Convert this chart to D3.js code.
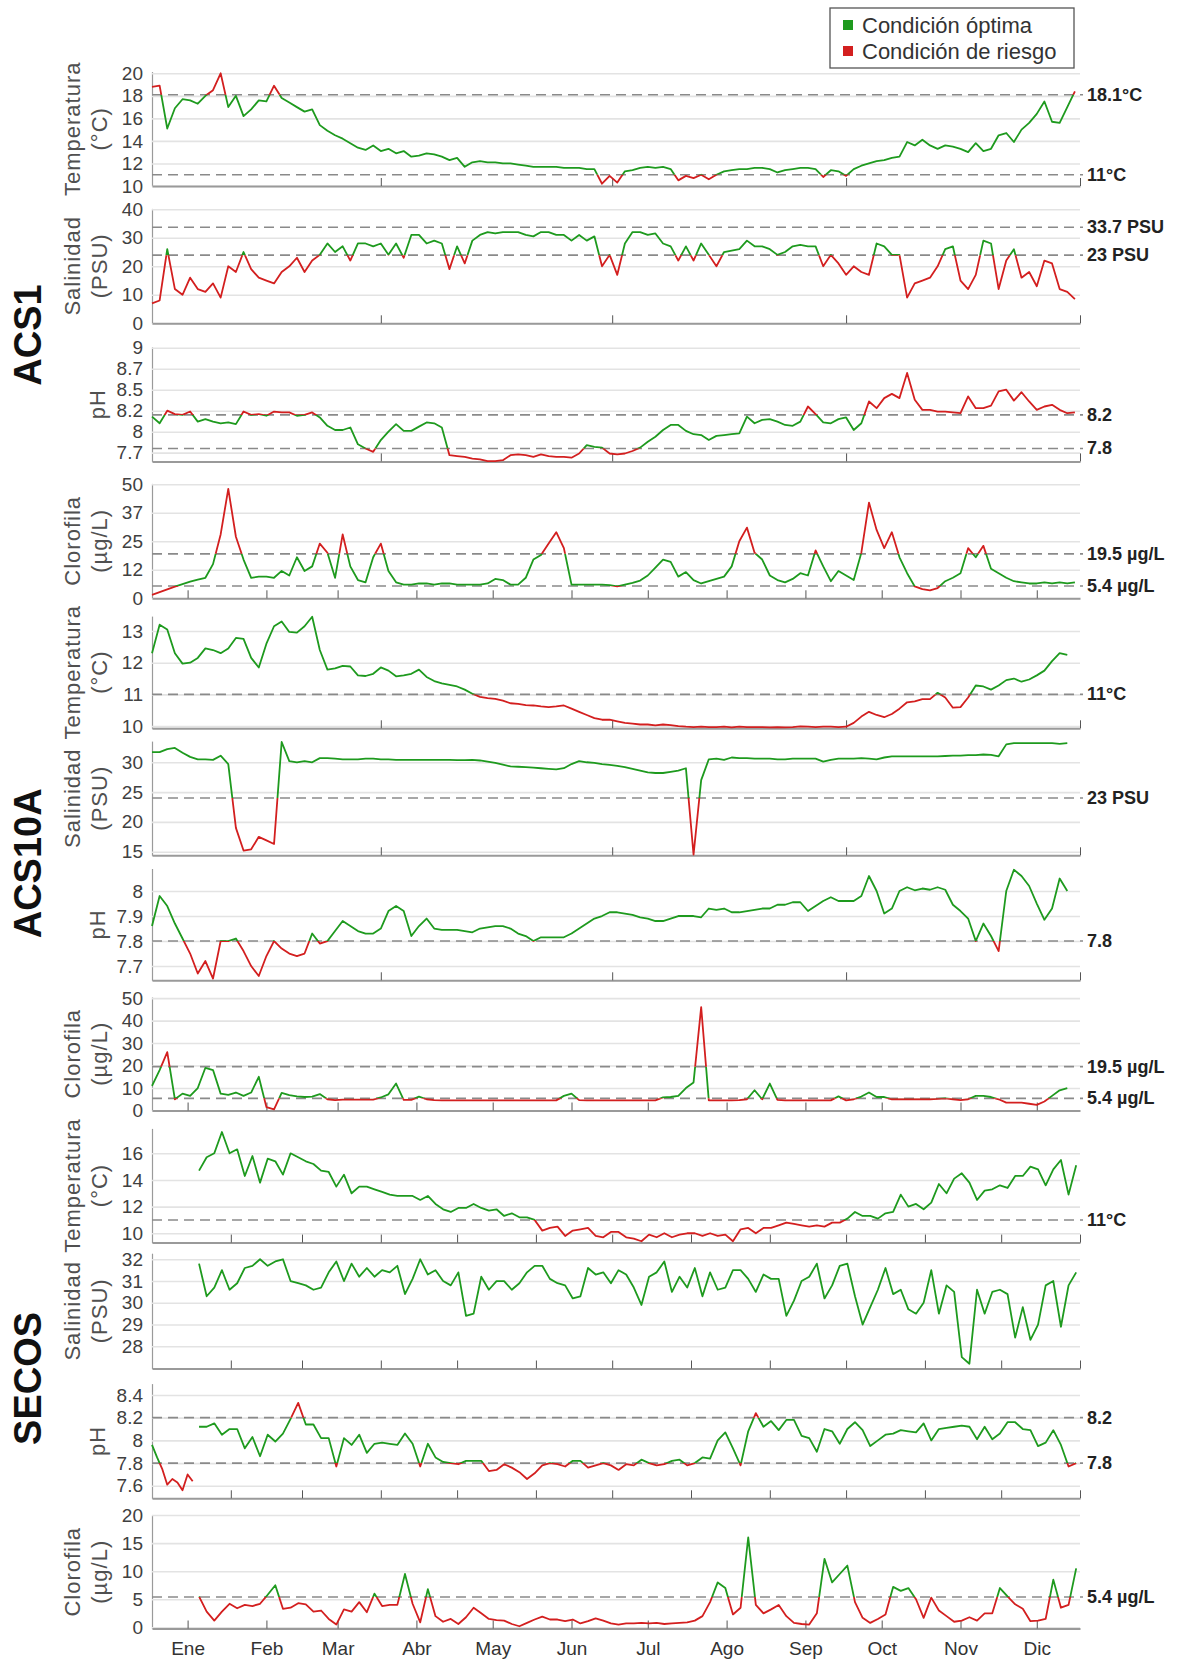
<!DOCTYPE html>
<html lang="es">

<head>
  <meta charset="UTF-8" />
  <title>Condiciones ACS1, ACS10A y SECOS</title>
  <script src="https://d3js.org/d3.v7.min.js"></script>
  <style>
    body { margin: 0; background: #fff; }
    svg { font-family: "Liberation Sans", Arial, sans-serif; }
  </style>
</head>

<body>
  <svg width="1178" height="1663"></svg>

  <script>
    // Series: one value every STEP days from the given start day (day 0 = 1 Ene)
    const STEP = 3;

    const acs1Temp = [18.8, 18.9, 15.1, 16.9, 17.7, 17.6, 17.3, 18.0, 18.5, 20.0,
      17.0, 18.0, 16.2, 16.8, 17.6, 17.5, 18.9, 17.8, 17.4, 17.0,
      16.6, 16.8, 15.4, 14.9, 14.5, 14.2, 13.8, 13.4, 13.2, 13.6,
      13.1, 13.3, 12.9, 13.1, 12.6, 12.7, 12.9, 12.8, 12.6, 12.3,
      12.5, 11.7, 12.1, 12.2, 12.1, 12.1, 12.0, 12.0, 11.9, 11.8,
      11.7, 11.7, 11.7, 11.7, 11.6, 11.6, 11.6, 11.5, 11.5, 10.2,
      10.9, 10.3, 11.3, 11.4, 11.6, 11.7, 11.6, 11.7, 11.5, 10.5,
      10.9, 10.7, 11.0, 10.6, 11.0, 11.3, 11.4, 11.5, 11.5, 11.6,
      11.6, 11.5, 11.2, 11.4, 11.5, 11.6, 11.6, 11.5, 10.8, 11.4,
      11.3, 10.9, 11.5, 11.8, 12.0, 12.2, 12.3, 12.5, 12.6, 13.9,
      13.6, 14.1, 13.6, 13.3, 13.6, 13.5, 13.3, 13.0, 13.8, 13.1,
      13.3, 14.5, 14.7, 13.9, 15.0, 15.6, 16.4, 17.5, 15.7, 15.6,
      17.0, 18.4];

    const acs1Sal = [7, 8, 26, 12, 10, 16, 12, 11, 14, 9,
      20, 18, 25, 19, 16, 15, 14, 18, 20, 23,
      18, 22, 24, 28, 25, 27, 22, 28, 28, 27,
      28, 24, 28, 23, 31, 31, 28, 29, 28, 19,
      27, 21, 29, 31, 32, 31.5, 32, 32, 32, 31,
      30.5, 32, 32, 31, 31, 29, 31, 29, 30.5, 20,
      24, 17, 28, 32, 32, 31, 31.5, 28, 27, 22,
      27, 22, 28, 24, 20, 25, 25.5, 26, 29, 27,
      27, 26, 24, 25, 27, 27.5, 27, 27, 20, 24,
      21, 17, 20, 18, 17, 28, 27, 24, 24, 9,
      14, 15, 16, 20, 26, 27, 15, 12, 17, 29,
      28, 12, 22, 26, 16, 18, 13, 22, 21, 12,
      11, 8.5];

    const acs1Ph = [8.18, 8.10, 8.25, 8.21, 8.20, 8.24, 8.12, 8.15, 8.12, 8.10,
      8.11, 8.09, 8.24, 8.20, 8.21, 8.19, 8.24, 8.23, 8.23, 8.19,
      8.20, 8.23, 8.17, 8.07, 8.02, 8.02, 8.05, 7.85, 7.80, 7.76,
      7.90, 8.00, 8.09, 8.01, 8.01, 8.06, 8.11, 8.10, 8.05, 7.72,
      7.71, 7.70, 7.68, 7.67, 7.65, 7.65, 7.66, 7.72, 7.73, 7.72,
      7.70, 7.73, 7.71, 7.70, 7.70, 7.69, 7.74, 7.84, 7.82, 7.81,
      7.74, 7.73, 7.74, 7.77, 7.81, 7.88, 7.94, 8.02, 8.08, 8.08,
      8.01, 7.97, 7.96, 7.90, 7.95, 7.96, 7.97, 7.98, 8.18, 8.10,
      8.14, 8.15, 8.12, 8.08, 8.07, 8.12, 8.30, 8.21, 8.11, 8.10,
      8.15, 8.17, 8.02, 8.10, 8.36, 8.28, 8.40, 8.45, 8.40, 8.70,
      8.38, 8.26, 8.26, 8.24, 8.24, 8.23, 8.22, 8.42, 8.28, 8.28,
      8.31, 8.48, 8.50, 8.37, 8.47, 8.36, 8.26, 8.30, 8.32, 8.26,
      8.22, 8.23];

    const acs1Chl = [1.5, 2.7, 3.9, 5.1, 6.2, 7.3, 8.2, 9, 15, 28,
      48, 27, 17, 9, 9.5, 9.5, 9, 12, 10, 18,
      12, 14, 24, 20, 9, 28, 14, 8, 7, 18,
      24, 12, 7, 6, 6, 6.5, 6.5, 6, 6.5, 6.5,
      6, 6, 6, 6, 6.5, 8.5, 8, 6, 6, 9,
      17, 19, 24, 29, 22, 6, 6, 6, 6, 6,
      5.8, 5.2, 6, 6.8, 7.8, 10, 13.5, 17, 16, 9.5,
      11.5, 8, 6.5, 7.5, 8.5, 9.5, 14, 25, 31, 20,
      17, 10, 8, 7, 8.5, 11, 10, 21, 14, 7.5,
      12, 10, 8, 20, 42, 30, 22, 29, 18, 11,
      5.2, 4, 3.5, 4.5, 7.5, 9, 11, 22, 18, 23,
      13, 11, 9, 7.5, 7, 6.5, 6.5, 7, 6.5, 7,
      6.5, 7];

    const acs10aTemp = [12.3, 13.2, 13.05, 12.3, 11.97, 12.0, 12.15, 12.45, 12.4, 12.3,
      12.45, 12.78, 12.75, 12.15, 11.85, 12.6, 13.15, 13.3, 12.97, 12.95,
      13.15, 13.45, 12.4, 11.78, 11.82, 11.9, 11.88, 11.6, 11.58, 11.65,
      11.85, 11.75, 11.57, 11.6, 11.65, 11.78, 11.55, 11.42, 11.35, 11.3,
      11.25, 11.15, 11.02, 10.92, 10.88, 10.86, 10.8, 10.72, 10.7, 10.66,
      10.65, 10.62, 10.6, 10.62, 10.65, 10.55, 10.45, 10.35, 10.25, 10.2,
      10.2, 10.15, 10.1, 10.08, 10.05, 10.05, 10.02, 10.05, 10.03, 10.0,
      9.98, 9.97, 9.98, 9.97, 9.97, 9.98, 9.96, 9.98, 9.97, 9.97,
      9.97, 9.96, 9.97, 9.96, 9.97, 9.99, 9.98, 9.97, 9.98, 9.98,
      9.97, 9.98, 10.1, 10.3, 10.45, 10.35, 10.28, 10.38, 10.55, 10.75,
      10.78, 10.85, 10.85, 11.05, 10.9, 10.58, 10.6, 10.9, 11.28, 11.25,
      11.15, 11.28, 11.45, 11.5, 11.4, 11.47, 11.6, 11.75, 12.05, 12.3,
      12.25];

    const acs10aSal = [31.7, 31.7, 32.2, 32.4, 31.6, 30.9, 30.5, 30.5, 30.4, 31.1,
      29.7, 19, 15.2, 15.4, 17.5, 16.9, 16.3, 33.4, 30.2, 30.0,
      30.2, 30.0, 30.7, 30.7, 30.6, 30.5, 30.5, 30.5, 30.6, 30.6,
      30.5, 30.5, 30.4, 30.4, 30.4, 30.4, 30.4, 30.4, 30.4, 30.4,
      30.35, 30.35, 30.4, 30.3, 30.1, 29.9, 29.6, 29.3, 29.25, 29.2,
      29.1, 29.0, 28.9, 28.8, 29.0, 29.7, 30.2, 30.0, 29.9, 29.7,
      29.55, 29.4, 29.2, 28.9, 28.6, 28.3, 28.2, 28.2, 28.4, 28.6,
      29.0, 14.5, 27, 30.5, 30.6, 30.4, 30.8, 30.7, 30.7, 30.6,
      30.6, 30.6, 30.5, 30.5, 30.6, 30.6, 30.6, 30.6, 30.1, 30.4,
      30.6, 30.6, 30.6, 30.7, 30.6, 30.5, 30.8, 31.0, 31.0, 31.0,
      31.0, 31.0, 31.0, 31.0, 31.05, 31.1, 31.1, 31.2, 31.2, 31.3,
      31.25, 31.0, 33.0, 33.2, 33.2, 33.2, 33.2, 33.2, 33.2, 33.1,
      33.2];

    const acs10aPh = [7.86, 7.98, 7.94, 7.87, 7.81, 7.75, 7.67, 7.72, 7.65, 7.80,
      7.80, 7.81, 7.76, 7.70, 7.66, 7.74, 7.80, 7.77, 7.75, 7.74,
      7.75, 7.83, 7.79, 7.80, 7.84, 7.88, 7.86, 7.84, 7.83, 7.83,
      7.85, 7.92, 7.94, 7.92, 7.82, 7.86, 7.89, 7.85, 7.845, 7.845,
      7.845, 7.84, 7.835, 7.85, 7.855, 7.86, 7.86, 7.85, 7.83, 7.82,
      7.80, 7.815, 7.815, 7.815, 7.815, 7.83, 7.85, 7.87, 7.89, 7.90,
      7.915, 7.915, 7.91, 7.905, 7.895, 7.89, 7.88, 7.88, 7.89, 7.90,
      7.90, 7.90, 7.895, 7.93, 7.925, 7.93, 7.915, 7.915, 7.92, 7.925,
      7.93, 7.93, 7.945, 7.945, 7.955, 7.955, 7.92, 7.94, 7.96, 7.975,
      7.96, 7.96, 7.96, 7.98, 8.06, 8.0, 7.91, 7.93, 8.0, 8.015,
      8.003, 8.01, 8.005, 8.015, 8.005, 7.945, 7.92, 7.89, 7.80, 7.87,
      7.82, 7.76, 8.0, 8.085, 8.06, 8.02, 7.95, 7.885, 7.93, 8.05,
      8.0];

    const acs10aChl = [11, 18, 26, 5, 7.5, 6.5, 10, 19, 18, 7.5,
      7, 8, 6.5, 8, 15, 1.5, 0.5, 7.8, 6.8, 6.3,
      6, 6.2, 7.3, 5, 4.6, 4.8, 4.8, 4.8, 4.8, 4.8,
      5.8, 7.2, 12, 4.7, 4.7, 6.2, 5, 4.6, 4.5, 4.5,
      4.5, 4.5, 4.5, 4.5, 4.5, 4.5, 4.5, 4.5, 4.5, 4.5,
      4.5, 4.5, 4.5, 4.5, 6.5, 7.5, 4.6, 4.5, 4.5, 4.5,
      4.5, 4.5, 4.5, 4.5, 4.5, 4.5, 4.5, 5.8, 6, 6.5,
      10, 12.5, 46, 4.5, 4.5, 4.5, 4.5, 4.6, 5, 9,
      5, 12, 4.7, 4.5, 4.5, 4.5, 4.5, 4.5, 4.5, 4.5,
      6.3, 4.5, 5, 6.2, 8, 6, 6, 5, 5, 5,
      5, 5, 5, 5.2, 5.4, 5, 4.6, 5, 6.5, 6.5,
      6, 5, 3.5, 3.5, 3.5, 3, 2.5, 4, 6.5, 9,
      10];

    // SECOS starts later in the year
    const secosStart = 18.5;

    const secosTemp = [14.7, 15.7, 16.0, 17.6, 16.0, 16.3, 14.3, 15.8, 13.8, 15.6,
      15.4, 14.4, 16.0, 15.7, 15.4, 15.2, 14.7, 14.6, 13.5, 14.4,
      13.0, 13.5, 13.5, 13.3, 13.1, 12.9, 12.8, 12.8, 12.8, 12.5,
      12.8, 12.2, 11.8, 11.6, 11.9, 11.9, 12.2, 11.9, 11.7, 11.8,
      11.3, 11.5, 11.2, 11.2, 11.0, 10.2, 10.4, 10.5, 9.8, 10.2,
      10.3, 10.4, 9.8, 9.7, 10.1, 10.1, 9.7, 9.6, 9.4, 9.9,
      9.7, 10.0, 9.7, 9.9, 10.0, 10.0, 9.8, 10.0, 9.8, 9.9,
      9.4, 10.3, 10.4, 10.0, 10.4, 10.4, 10.6, 10.8, 10.7, 10.6,
      10.5, 10.6, 10.5, 10.8, 10.8, 11.1, 11.6, 11.3, 11.3, 11.1,
      11.5, 11.6, 12.9, 12.0, 12.2, 11.8, 12.3, 13.7, 13.0, 14.1,
      14.5, 13.8, 12.5, 13.2, 13.3, 13.6, 13.4, 14.3, 14.3, 15.0,
      14.8, 13.6, 14.8, 15.5, 12.9, 15.1];

    const secosSal = [31.8, 30.3, 30.7, 31.5, 30.6, 30.9, 31.6, 31.7, 32.0, 31.7,
      31.9, 32.0, 31.0, 30.9, 30.8, 30.6, 30.7, 31.4, 31.9, 31.0,
      31.8, 31.2, 31.6, 31.2, 31.5, 31.4, 31.7, 30.4, 31.1, 32.0,
      31.3, 31.5, 31.0, 30.8, 31.4, 29.4, 29.5, 31.2, 30.6, 31.0,
      31.0, 30.6, 30.9, 31.4, 31.7, 31.7, 31.1, 30.9, 30.8, 30.2,
      30.3, 31.6, 31.3, 31.4, 30.9, 31.5, 31.3, 30.7, 29.9, 31.2,
      31.4, 31.9, 30.5, 31.2, 30.7, 31.6, 30.3, 31.4, 30.6, 30.7,
      31.5, 31.5, 31.1, 30.5, 31.3, 31.1, 31.1, 29.4, 30.1, 31.0,
      31.2, 31.8, 30.2, 30.8, 31.7, 31.8, 30.3, 29.0, 29.8, 30.6,
      31.6, 30.4, 30.6, 29.7, 29.5, 30.0, 31.5, 29.5, 30.8, 30.5,
      27.5, 27.2, 30.6, 29.5, 30.5, 30.6, 30.4, 28.4, 29.8, 28.3,
      29.0, 30.8, 31.0, 28.9, 30.8, 31.4];

    // early January pH record, one value every 2 days
    const secosPhEne = [7.96, 7.85, 7.75, 7.61, 7.66, 7.63, 7.56, 7.70, 7.64];

    const secosPh = [8.12, 8.12, 8.15, 8.05, 8.10, 8.10, 7.93, 8.03, 7.86, 8.05,
      7.99, 8.06, 8.19, 8.33, 8.14, 8.14, 8.02, 8.02, 7.77, 8.02,
      7.96, 8.05, 7.89, 7.97, 7.98, 7.97, 7.96, 8.06, 7.97, 7.77,
      7.97, 7.85, 7.81, 7.80, 7.79, 7.82, 7.82, 7.82, 7.73, 7.74,
      7.79, 7.76, 7.72, 7.66, 7.71, 7.78, 7.80, 7.79, 7.77, 7.82,
      7.82, 7.76, 7.78, 7.80, 7.78, 7.74, 7.79, 7.78, 7.83, 7.80,
      7.78, 7.79, 7.82, 7.83, 7.78, 7.80, 7.85, 7.84, 8.0, 8.07,
      7.93, 7.78, 8.08, 8.24, 8.12, 8.17, 8.09, 8.18, 8.18, 8.04,
      8.02, 7.90, 8.10, 8.08, 7.97, 8.10, 8.16, 8.09, 7.95, 8.0,
      8.05, 8.06, 8.09, 8.08, 8.07, 8.15, 8.0, 8.10, 8.11, 8.12,
      8.13, 8.12, 8.01, 8.12, 8.01, 8.06, 8.16, 8.16, 8.10, 8.09,
      7.95, 7.98, 8.09, 7.96, 7.77, 7.80];

    const secosChl = [5.5, 2.8, 1.2, 2.8, 4.2, 3.4, 4.0, 3.8, 4.2, 5.8,
      7.5, 3.3, 3.5, 4.3, 4.1, 2.8, 3.0, 1.5, 0.5, 3.2,
      2.8, 4.5, 2.7, 6.0, 3.8, 4.0, 4.0, 9.5, 4.2, 0.9,
      6.8, 2.0, 1.0, 1.5, 0.6, 1.8, 3.5, 2.5, 1.5, 1.3,
      1.2, 0.6, 0.2, 0.8, 1.4, 1.9, 1.4, 1.4, 1.1, 1.4,
      0.7, 1.1, 1.6, 1.2, 0.7, 0.5, 0.7, 0.7, 0.8, 0.7,
      0.8, 0.6, 0.7, 0.8, 0.9, 1.2, 2.0, 4.5, 8, 7,
      2.3, 3.5, 16, 4, 2.5, 3.2, 4.0, 2.0, 0.8, 0.6,
      0.5, 2.5, 12.2, 8, 9.5, 11, 4.5, 1.7, 0.8, 1.5,
      2.3, 7.2, 6.5, 7, 5, 1.7, 5.3, 3, 2, 1.0,
      1.2, 1.8, 1.2, 2.5, 2.5, 7, 5.5, 4.1, 3.3, 1.1,
      1.2, 1.5, 8.5, 3.5, 4, 10.5];

    // tick positions (day of year) and labels
    const months = ["Ene", "Feb", "Mar", "Abr", "May", "Jun", "Jul", "Ago", "Sep", "Oct", "Nov", "Dic"];
    const midMonthDays = [14, 45, 73, 104, 134, 165, 195, 226, 257, 287, 318, 348];
    const monthStartDays = [31, 59, 90, 120, 151, 181, 212, 243, 273, 304, 334, 365];
    const quarterDays = [90, 181, 273, 365];

    const acs1PhTicks = [7.75, 8, 8.25, 8.5, 8.75, 9];
    const acs1PhTickLabels = ["7.7", "8", "8.2", "8.5", "8.7", "9"];
    const acs1ChlTicks = [0, 12.5, 25, 37.5, 50];
    const acs1ChlTickLabels = ["0", "12", "25", "37", "50"];

    const stations = ["ACS1", "ACS10A", "SECOS"];

    const run = (start, step, values) => values.map((v, i) => ({ day: start + i * step, v }));

    const panels = [
      { st: 0, label: ["Temperatura", "(°C)"], box: [71.6, 186], domain: [10, 20.15],
        yTicks: [10, 12, 14, 16, 18, 20], xTicks: quarterDays,
        runs: [run(0, STEP, acs1Temp)], band: [11, 18.1], lines: [[18.1, "18.1°C"], [11, "11°C"]] },
      { st: 0, label: ["Salinidad", "(PSU)"], box: [208.4, 323.3], domain: [0, 40.3],
        yTicks: [0, 10, 20, 30, 40], xTicks: quarterDays,
        runs: [run(0, STEP, acs1Sal)], band: [23.9, 33.7], lines: [[33.7, "33.7 PSU"], [23.9, "23 PSU"]] },
      { st: 0, label: ["pH"], box: [346.9, 461.4], domain: [7.646, 9.01],
        yTicks: acs1PhTicks, yTickLabels: acs1PhTickLabels, xTicks: quarterDays,
        runs: [run(0, STEP, acs1Ph)], band: [7.8, 8.2], lines: [[8.2, "8.2"], [7.8, "7.8"]] },
      { st: 0, label: ["Clorofila", "(µg/L)"], box: [483.4, 598.3], domain: [0, 50.4],
        yTicks: acs1ChlTicks, yTickLabels: acs1ChlTickLabels, xTicks: midMonthDays,
        runs: [run(0, STEP, acs1Chl)], band: [5.4, 19.5], lines: [[19.5, "19.5 µg/L"], [5.4, "5.4 µg/L"]] },
      { st: 1, label: ["Temperatura", "(°C)"], box: [616.1, 728.3], domain: [9.93, 13.47],
        yTicks: [10, 11, 12, 13], xTicks: quarterDays,
        runs: [run(0, STEP, acs10aTemp)], band: [11, null], lines: [[11, "11°C"]] },
      { st: 1, label: ["Salinidad", "(PSU)"], box: [741.1, 855.3], domain: [14.4, 33.55],
        yTicks: [15, 20, 25, 30], xTicks: quarterDays,
        runs: [run(0, STEP, acs10aSal)], band: [24, null], lines: [[24, "23 PSU"]] },
      { st: 1, label: ["pH"], box: [868.5, 980.3], domain: [7.643, 8.09],
        yTicks: [7.7, 7.8, 7.9, 8], xTicks: quarterDays,
        runs: [run(0, STEP, acs10aPh)], band: [7.8, null], lines: [[7.8, "7.8"]] },
      { st: 1, label: ["Clorofila", "(µg/L)"], box: [997, 1110.5], domain: [0, 50.5],
        yTicks: [0, 10, 20, 30, 40, 50], xTicks: midMonthDays,
        runs: [run(0, STEP, acs10aChl)], band: [5.4, 19.5], lines: [[19.5, "19.5 µg/L"], [5.4, "5.4 µg/L"]] },
      { st: 2, label: ["Temperatura", "(°C)"], box: [1128.4, 1242.6], domain: [9.3, 17.87],
        yTicks: [10, 12, 14, 16], xTicks: monthStartDays,
        runs: [run(secosStart, STEP, secosTemp)], band: [11, null], lines: [[11, "11°C"]] },
      { st: 2, label: ["Salinidad", "(PSU)"], box: [1253.2, 1368.5], domain: [26.98, 32.28],
        yTicks: [28, 29, 30, 31, 32], xTicks: monthStartDays,
        runs: [run(secosStart, STEP, secosSal)], band: null, lines: [] },
      { st: 2, label: ["pH"], box: [1383.6, 1498.3], domain: [7.49, 8.5],
        yTicks: [7.6, 7.8, 8, 8.2, 8.4], xTicks: monthStartDays,
        runs: [run(0, 2, secosPhEne), run(secosStart, STEP, secosPh)], band: [7.8, 8.2],
        lines: [[8.2, "8.2"], [7.8, "7.8"]] },
      { st: 2, label: ["Clorofila", "(µg/L)"], box: [1515, 1628.5], domain: [-0.2, 20],
        yTicks: [0, 5, 10, 15, 20], xTicks: midMonthDays,
        runs: [run(secosStart, STEP, secosChl)], band: [5.4, null], lines: [[5.4, "5.4 µg/L"]] }
    ];

    const GREEN = "#1e9a1e";
    const RED = "#d31f1f";

    const svg = d3.select("svg");
    const defs = svg.append("defs");
    const x = d3.scaleLinear().domain([0, 365]).range([152, 1080]);
    const plotW = x(365) - x(0);

    panels.forEach((p, k) => {
      const [top, bottom] = p.box;
      const y = d3.scaleLinear().domain(p.domain).range([bottom, top]);
      const g = svg.append("g");

      // y axis with grid lines
      g.append("g")
        .attr("transform", `translate(${x(0)},0)`)
        .call(d3.axisLeft(y).tickValues(p.yTicks)
          .tickFormat((d, i) => p.yTickLabels ? p.yTickLabels[i] : d)
          .tickSizeInner(-plotW).tickSizeOuter(0).tickPadding(9))
        .call(a => a.attr("font-family", null).attr("font-size", 19))
        .call(a => a.select(".domain").attr("stroke", "#9a9a9a").attr("stroke-width", 1.2))
        .call(a => a.selectAll(".tick line").attr("stroke", "#e3e3e3").attr("stroke-width", 1.6))
        .call(a => a.selectAll(".tick text").attr("fill", "#404040"));

      // threshold lines
      g.selectAll(".thr").data(p.lines).join("line")
        .attr("x1", x(0)).attr("x2", x(365) + 3)
        .attr("y1", d => y(d[0])).attr("y2", d => y(d[0]))
        .attr("stroke", "#8a8a8a").attr("stroke-width", 1.6)
        .attr("stroke-dasharray", "10,6");
      g.selectAll(".thrlab").data(p.lines).join("text")
        .attr("x", 1087).attr("y", d => y(d[0]))
        .attr("dominant-baseline", "central")
        .attr("font-size", 18).attr("font-weight", "bold").attr("fill", "#222")
        .text(d => d[1]);

      // x axis (inward ticks)
      g.append("g")
        .attr("transform", `translate(0,${bottom})`)
        .call(d3.axisBottom(x).tickValues(p.xTicks).tickFormat("")
          .tickSizeInner(-8).tickSizeOuter(0))
        .call(a => a.select(".domain").attr("stroke", "#9a9a9a").attr("stroke-width", 2))
        .call(a => a.selectAll(".tick line").attr("stroke", "#555").attr("stroke-width", 1));

      // clip regions: inside the acceptable band (green) and outside (red)
      const lo = p.band && p.band[0] != null ? y(p.band[0]) : bottom + 20;
      const hi = p.band && p.band[1] != null ? y(p.band[1]) : top - 20;
      defs.append("clipPath").attr("id", `in${k}`)
        .append("rect").attr("x", 0).attr("width", 1178).attr("y", hi).attr("height", lo - hi);
      const out = defs.append("clipPath").attr("id", `out${k}`);
      out.append("rect").attr("x", 0).attr("width", 1178)
        .attr("y", top - 20).attr("height", Math.max(0, hi - (top - 20)));
      out.append("rect").attr("x", 0).attr("width", 1178)
        .attr("y", lo).attr("height", Math.max(0, bottom + 20 - lo));

      const line = d3.line().x(d => x(d.day)).y(d => y(d.v));
      p.runs.forEach(r => {
        [[`in${k}`, GREEN], [`out${k}`, RED]].forEach(([clip, color]) => {
          g.append("path").datum(r)
            .attr("d", line)
            .attr("fill", "none")
            .attr("stroke", color)
            .attr("stroke-width", 1.8)
            .attr("stroke-linejoin", "round")
            .attr("clip-path", `url(#${clip})`);
        });
      });

      // y label
      const yc = (top + bottom) / 2;
      const xs = p.label.length === 2 ? [72, 99] : [97];
      p.label.forEach((t, i) => {
        g.append("text")
          .attr("transform", `translate(${xs[i]},${yc}) rotate(-90)`)
          .attr("text-anchor", "middle")
          .attr("dominant-baseline", "central")
          .attr("font-size", 22)
          .attr("letter-spacing", 1)
          .attr("fill", "#505050")
          .text(t);
      });
    });

    // month labels under the last panel
    const last = panels[panels.length - 1];
    svg.append("g")
      .attr("transform", `translate(0,${last.box[1]})`)
      .call(d3.axisBottom(x).tickValues(midMonthDays)
        .tickFormat((d, i) => months[i]).tickSize(0).tickPadding(13))
      .call(a => a.attr("font-family", null).attr("font-size", 19))
      .call(a => a.select(".domain").remove())
      .call(a => a.selectAll("text").attr("fill", "#333"));

    // station labels
    stations.forEach((s, i) => {
      const ps = panels.filter(p => p.st === i);
      const yc = (ps[0].box[0] + ps[ps.length - 1].box[1]) / 2;
      svg.append("text")
        .attr("transform", `translate(28,${yc}) rotate(-90)`)
        .attr("text-anchor", "middle")
        .attr("dominant-baseline", "central")
        .attr("font-size", 38)
        .attr("font-weight", "bold")
        .attr("fill", "#111")
        .text(s);
    });

    // legend
    const legendItems = [["Condición óptima", GREEN], ["Condición de riesgo", RED]];
    const lg = svg.append("g").attr("transform", "translate(830,8)");
    lg.append("rect").attr("width", 244).attr("height", 60)
      .attr("fill", "#fff").attr("stroke", "#555").attr("stroke-width", 1.3);
    lg.selectAll(".sw").data(legendItems).join("rect")
      .attr("x", 13).attr("y", (d, i) => 12 + i * 26)
      .attr("width", 10).attr("height", 10)
      .attr("fill", d => d[1]);
    lg.selectAll(".lt").data(legendItems).join("text")
      .attr("x", 32).attr("y", (d, i) => 17 + i * 26)
      .attr("dominant-baseline", "central")
      .attr("font-size", 22)
      .attr("fill", "#333")
      .text(d => d[0]);
  </script>
</body>

</html>
